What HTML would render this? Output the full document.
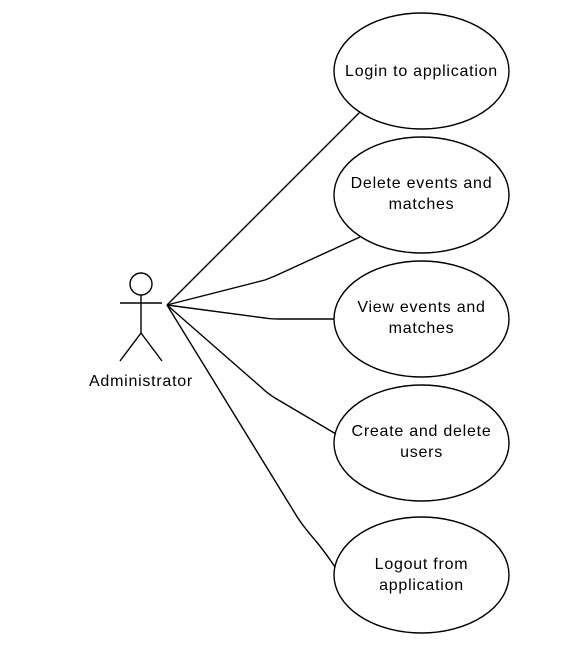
<!DOCTYPE html>
<html><head><meta charset="utf-8"><style>
html,body{margin:0;padding:0;background:#fff;}
svg{display:block;}
text{font-family:"Liberation Sans",Arial,sans-serif;font-size:16px;letter-spacing:0.75px;fill:#000;}
</style></head><body>
<svg width="566" height="655" viewBox="0 0 566 655" xmlns="http://www.w3.org/2000/svg">
<g fill="none" stroke="#000" stroke-width="1.4">
<circle cx="141" cy="284" r="11"/>
<line x1="141" y1="295" x2="141" y2="333"/>
<line x1="120" y1="303" x2="162" y2="303"/>
<line x1="141" y1="333" x2="120" y2="361"/>
<line x1="141" y1="333" x2="162" y2="361"/>
<ellipse cx="421.5" cy="71" rx="87.5" ry="58"/>
<ellipse cx="421.5" cy="195" rx="87.5" ry="58"/>
<ellipse cx="421.5" cy="319" rx="87.5" ry="58"/>
<ellipse cx="421.5" cy="443" rx="87.5" ry="58"/>
<ellipse cx="421.5" cy="575" rx="87.5" ry="58"/>
<path d="M167,305 L360,112"/>
<path d="M167,305 L265,280 Q270,278 275,276 L360,237"/>
<path d="M167,305 L265,318 Q270,319 280,319 L334,319"/>
<path d="M167,305 L262,388 Q267,393 275,398 L336,434"/>
<path d="M167,305 L296,515 Q302,525 315,540 Q325,552 335,567"/>
</g>
<g text-anchor="middle">
<text x="141" y="386">Administrator</text>
<text x="421.5" y="76">Login to application</text>
<text x="421.5" y="188">Delete events and</text>
<text x="421.5" y="209">matches</text>
<text x="421.5" y="312">View events and</text>
<text x="421.5" y="333">matches</text>
<text x="421.5" y="436">Create and delete</text>
<text x="421.5" y="457">users</text>
<text x="421.5" y="569">Logout from</text>
<text x="421.5" y="590">application</text>
</g>
</svg>
</body></html>
